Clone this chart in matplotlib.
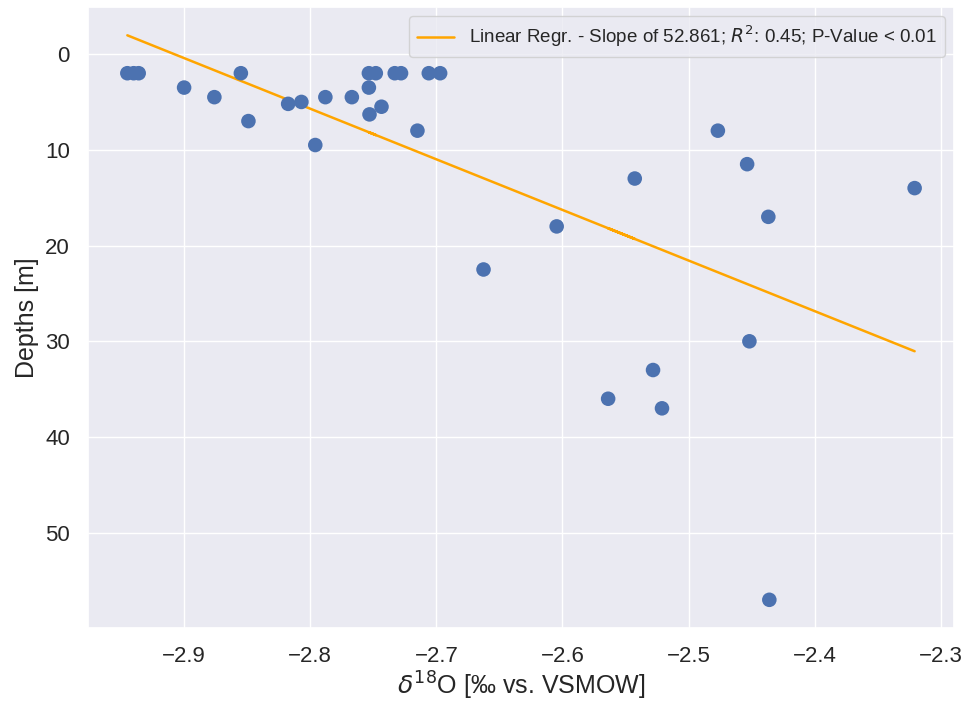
import matplotlib

matplotlib.use("Agg")
import matplotlib.pyplot as plt
import numpy as np
import seaborn as sns

# d18O samples [permil vs. VSMOW] and sampling depths [m]
d18o = np.array([
    -2.945, -2.940, -2.936, -2.900, -2.876, -2.855, -2.849, -2.8175,
    -2.807, -2.796, -2.788, -2.767, -2.7535, -2.748, -2.7535, -2.753,
    -2.7435, -2.733, -2.728, -2.715, -2.706, -2.697, -2.6626, -2.6046,
    -2.5427, -2.5638, -2.5282, -2.5211, -2.4768, -2.4536, -2.4518, -2.4368,
    -2.436, -2.3208,
])
depths = np.array([
    2.0, 2.0, 2.0, 3.5, 4.5, 2.0, 7.0, 5.2,
    5.0, 9.5, 4.5, 4.5, 2.0, 2.0, 3.5, 6.3,
    5.5, 2.0, 2.0, 8.0, 2.0, 2.0, 22.5, 18.0,
    13.0, 36.0, 33.0, 37.0, 8.0, 11.5, 30.0, 17.0,
    57.0, 14.0,
])

slope = 52.861
r_squared = 0.45
intercept = depths.mean() - slope * d18o.mean()

sns.set_theme(style="darkgrid")
plt.rcParams["font.family"] = ["Liberation Sans", "DejaVu Sans"]

fig, ax = plt.subplots(figsize=(9.7, 7.09), dpi=100)
fig.subplots_adjust(left=0.0907, right=0.9835, bottom=0.1142, top=0.990)

ax.scatter(d18o, depths, s=110, color="#4C72B0", edgecolors="none", zorder=3)
ax.plot(d18o, slope * d18o + intercept, color="orange", linewidth=1.8,
        label=f"Linear Regr. - Slope of {slope:.3f}; $R^2$: {r_squared:.2f}; P-Value < 0.01")

ax.invert_yaxis()
ax.set_xlabel(r"$\delta^{18}$O [‰ vs. VSMOW]", fontsize=18, labelpad=2)
ax.set_ylabel("Depths [m]", fontsize=18, labelpad=4)
ax.tick_params(labelsize=16, pad=7)
ax.legend(loc="upper right", fontsize=13.5)

fig.savefig("out.png", dpi=100)
plt.close(fig)
